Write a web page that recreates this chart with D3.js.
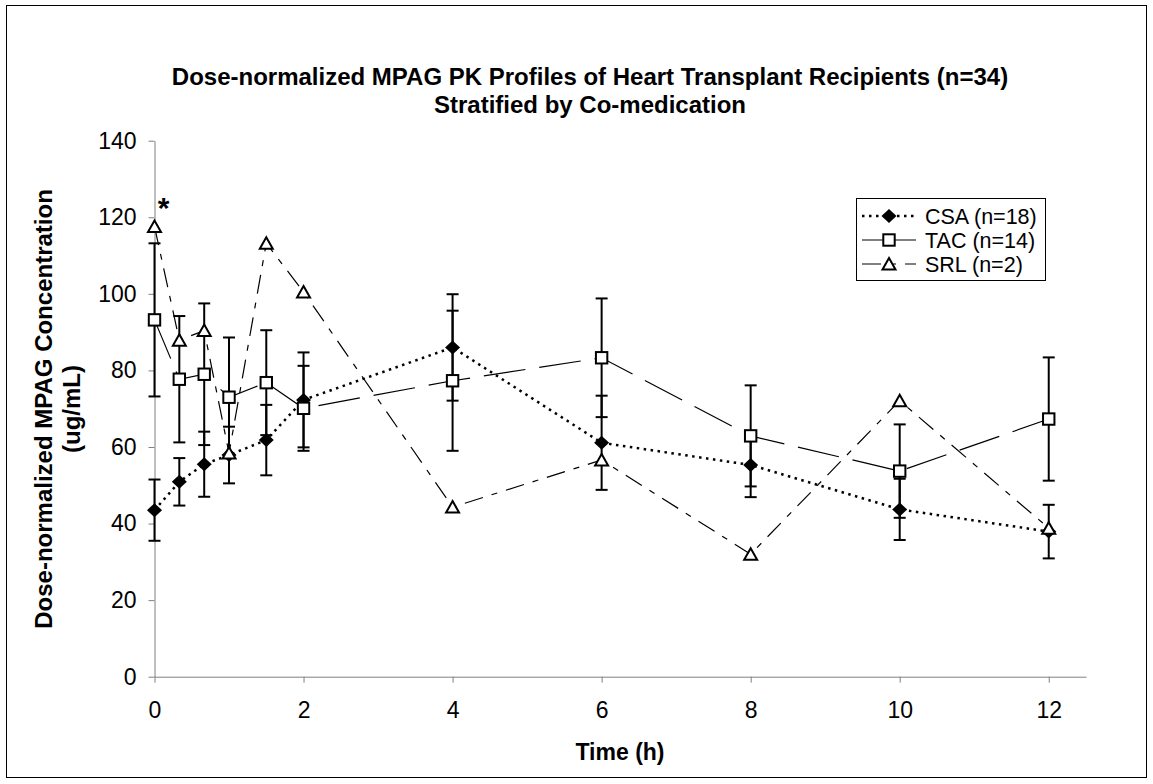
<!DOCTYPE html>
<html>
<head>
<meta charset="utf-8">
<script src="https://cdn.jsdelivr.net/npm/d3@7"></script>
<style>
  body { margin: 0; background: #fff; }
  svg text { font-family: "Liberation Sans", Arial, sans-serif; fill: #000; }
</style>
</head>
<body>
<svg id="chart" width="1153" height="784"></svg>
<script>
// sampling times (h)
const times = [0, 0.333, 0.667, 1, 1.5, 2, 4, 6, 8, 10, 12];

// CSA co-medication, mean and SD
const csaMean = [43.5, 50.9, 55.5, 57.9, 61.8, 72.3, 86.0, 61.1, 55.3, 43.7, 37.9];
const csaSd = [8.0, 6.2, 8.5, 7.4, 9.2, 12.4, 13.9, 12.3, 8.4, 8.0, 7.0];

// TAC co-medication
const tacMean = [93.2, 77.7, 79.0, 73.0, 76.8, 70.1, 77.3, 83.3, 62.9, 53.7, 67.3];
const tacSd = [20.0, 16.5, 18.5, 15.6, 13.7, 11.1, 18.3, 15.5, 13.2, 12.2, 16.1];

// SRL co-medication (n=2, no error bars)
const srlMean = [117.6, 87.9, 90.4, 58.4, 113.2, 100.5, 44.3, 56.6, 32.0, 72.1, 38.8];

const seriesNames = ["CSA (n=18)", "TAC (n=14)", "SRL (n=2)"];
const xTicks = [0, 2, 4, 6, 8, 10, 12];
const yTicks = [0, 20, 40, 60, 80, 100, 120, 140];

const titleLines = [
  "Dose-normalized MPAG PK Profiles of Heart Transplant Recipients (n=34)",
  "Stratified by Co-medication"
];
const yLabelLines = ["Dose-normalized MPAG Concentration", "(ug/mL)"];

const svg = d3.select("#chart");

// outer chart border
svg.append("rect")
  .attr("x", 6.5).attr("y", 5.5)
  .attr("width", 1140).attr("height", 772)
  .attr("fill", "none").attr("stroke", "#000").attr("stroke-width", 1);

const x = d3.scaleLinear().domain([0, 12.5]).range([154.5, 1086]);
const y = d3.scaleLinear().domain([0, 140]).range([676.7, 140.7]);

// title
svg.append("g").selectAll("text")
  .data(titleLines)
  .join("text")
  .attr("x", 590)
  .attr("y", (d, i) => 85 + i * 28)
  .attr("text-anchor", "middle")
  .attr("font-size", 24)
  .attr("font-weight", "bold")
  .text(d => d);

// axes
const xAxis = svg.append("g")
  .attr("transform", `translate(0,${y(0)})`)
  .call(d3.axisBottom(x).tickValues(xTicks).tickSize(6).tickSizeOuter(0).tickPadding(19));
const yAxis = svg.append("g")
  .attr("transform", `translate(${x(0)},0)`)
  .call(d3.axisLeft(y).tickValues(yTicks).tickSize(6).tickSizeOuter(0).tickPadding(12));

[xAxis, yAxis].forEach(g => {
  g.select(".domain").attr("stroke", "#808080");
  g.selectAll(".tick line").attr("stroke", "#808080");
  g.selectAll(".tick text").attr("font-size", 23).attr("font-family", "Liberation Sans, Arial, sans-serif").attr("fill", "#000");
});

// axis titles
svg.append("text")
  .attr("x", 620).attr("y", 760)
  .attr("text-anchor", "middle")
  .attr("font-size", 23).attr("font-weight", "bold")
  .text("Time (h)");

svg.append("g")
  .attr("transform", "translate(0,409) rotate(-90)")
  .selectAll("text")
  .data(yLabelLines)
  .join("text")
  .attr("x", 0)
  .attr("y", (d, i) => 52 + i * 28)
  .attr("text-anchor", "middle")
  .attr("font-size", 24).attr("font-weight", "bold")
  .text(d => d);

// series setup
const series = [
  { name: seriesNames[0], mean: csaMean, sd: csaSd, marker: "diamond", dash: "2.5,4.5", width: 2.5 },
  { name: seriesNames[1], mean: tacMean, sd: tacSd, marker: "square", dash: "42,14", width: 1.2 },
  { name: seriesNames[2], mean: srlMean, sd: null, marker: "triangle", dash: "19,9,6,9", width: 1.2 }
];

const line = d3.line().x(d => x(d[0])).y(d => y(d[1]));

function drawMarker(g, type) {
  if (type === "diamond") {
    g.append("path").attr("d", "M0,-7L7.5,0L0,7L-7.5,0Z").attr("fill", "#000");
  } else if (type === "square") {
    g.append("rect").attr("x", -5.7).attr("y", -5.7).attr("width", 11.4).attr("height", 11.4)
      .attr("fill", "#fff").attr("stroke", "#000").attr("stroke-width", 2);
  } else {
    g.append("path").attr("d", "M0,-6L6.5,5.5L-6.5,5.5Z")
      .attr("fill", "#fff").attr("stroke", "#000").attr("stroke-width", 2);
  }
}

// lines
series.forEach(s => {
  svg.append("path")
    .datum(times.map((t, i) => [t, s.mean[i]]))
    .attr("d", line)
    .attr("fill", "none")
    .attr("stroke", "#000")
    .attr("stroke-width", s.width)
    .attr("stroke-dasharray", s.dash);
});

// error bars
series.filter(s => s.sd).forEach(s => {
  const eb = svg.append("g").attr("stroke", "#000").attr("stroke-width", 2);
  times.forEach((t, i) => {
    const lo = y(s.mean[i] - s.sd[i]), hi = y(s.mean[i] + s.sd[i]), cx = x(t);
    eb.append("line").attr("x1", cx).attr("x2", cx).attr("y1", lo).attr("y2", hi);
    eb.append("line").attr("x1", cx - 6).attr("x2", cx + 6).attr("y1", lo).attr("y2", lo);
    eb.append("line").attr("x1", cx - 6).attr("x2", cx + 6).attr("y1", hi).attr("y2", hi);
  });
});

// markers
series.forEach(s => {
  times.forEach((t, i) => {
    const g = svg.append("g").attr("transform", `translate(${x(t)},${y(s.mean[i])})`);
    drawMarker(g, s.marker);
  });
});

// significance asterisk at t=0
svg.append("text")
  .attr("x", x(0) + 9).attr("y", y(117.6) - 8)
  .attr("text-anchor", "middle")
  .attr("font-size", 30).attr("font-weight", "bold")
  .text("*");

// legend
const legend = svg.append("g").attr("transform", "translate(856,198)");
legend.append("rect")
  .attr("x", 0.5).attr("y", 0.5).attr("width", 189).attr("height", 82)
  .attr("fill", "#fff").attr("stroke", "#000").attr("stroke-width", 1);

series.forEach((s, i) => {
  const row = legend.append("g").attr("transform", `translate(0,${18 + i * 24})`);
  row.append("line")
    .attr("x1", 6).attr("x2", 60).attr("y1", 0).attr("y2", 0)
    .attr("stroke", "#000").attr("stroke-width", s.width)
    .attr("stroke-dasharray", s.marker === "square" ? null : s.dash);
  drawMarker(row.append("g").attr("transform", "translate(33,0)"), s.marker);
  row.append("text")
    .attr("x", 69).attr("y", 0).attr("dy", "0.36em")
    .attr("font-size", 21.5)
    .text(s.name);
});
</script>
</body>
</html>
